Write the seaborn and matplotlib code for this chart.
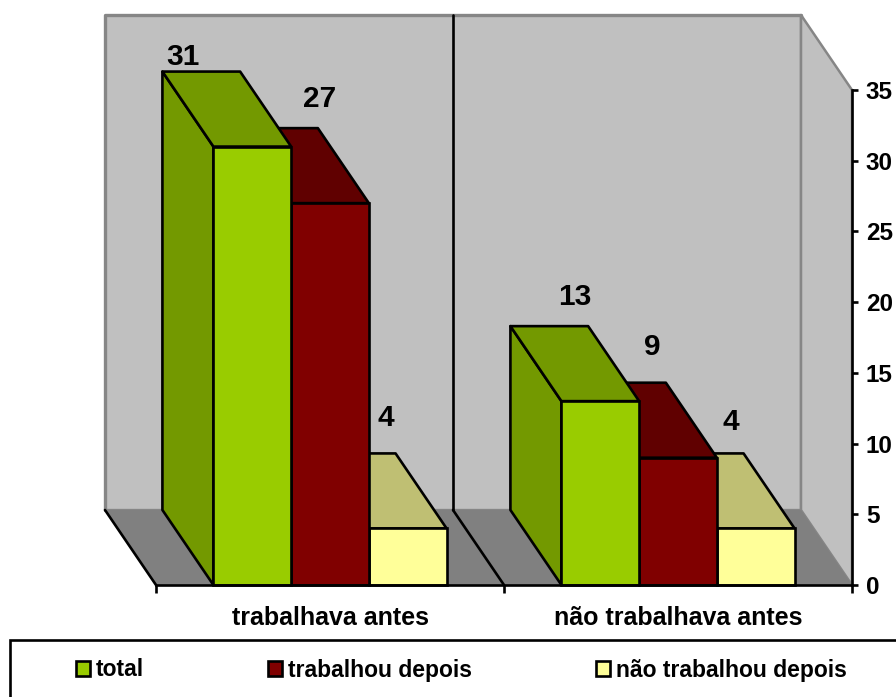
import matplotlib
matplotlib.use("Agg")
import matplotlib.pyplot as plt
from matplotlib.colors import to_rgb
from matplotlib.patches import Polygon, Rectangle
import pandas as pd
import seaborn as sns

categories = ["trabalhava antes", "não trabalhava antes"]
total = [31, 13]
trabalhou_depois = [27, 9]
nao_trabalhou_depois = [4, 4]
series_names = ["total", "trabalhou depois", "não trabalhou depois"]
y_ticks = [0, 5, 10, 15, 20, 25, 30, 35]

W, H = 896, 697
L, R, T, B = 156, 852, 90, 585
DEPTH_X_PX, DEPTH_Y_PX = -51, 75
colors = ["#99CC00", "#800000", "#FFFF99"]
LABEL_OFF = {(0, 0): (-30, 15), (1, 0): (28, 29), (2, 0): (17, 35),
             (0, 1): (13, 29), (1, 1): (13, 36), (2, 1): (14, 31)}
LW = 1.9

sns.set_theme(style="white")
plt.rcParams["font.family"] = ["Liberation Sans", "DejaVu Sans"]
plt.rcParams["font.weight"] = "bold"

df = pd.DataFrame({
    "cat": categories * 3,
    "serie": sum([[s] * 2 for s in series_names], []),
    "val": total + trabalhou_depois + nao_trabalhou_depois,
})

fig = plt.figure(figsize=(W / 100, H / 100), dpi=100, facecolor="white")
ax = fig.add_axes([L / W, 1 - B / H, (R - L) / W, (B - T) / H])
sns.barplot(data=df, x="cat", y="val", hue="serie", order=categories,
            hue_order=series_names, palette=colors, width=0.67, gap=0,
            saturation=1, edgecolor="black", linewidth=LW, ax=ax, legend=True)
handles, labels = ax.get_legend_handles_labels()
ax.get_legend().remove()

ax.set_xlim(-0.5, 1.5)
ax.set_ylim(0, 35)
ax.patch.set_visible(False)
dx = DEPTH_X_PX / (R - L) * 2.0
dy = DEPTH_Y_PX / (B - T) * 35


def poly(pts, fc, ec="none", lw=0, z=1.0):
    p = Polygon(pts, closed=True, facecolor=fc, edgecolor=ec, linewidth=lw,
                zorder=z, clip_on=False, joinstyle="round")
    ax.add_patch(p)


x0, x1, y0, y1 = -0.5, 1.5, 0, 35
wall, floor_c, wall_edge = "#C0C0C0", "#808080", "#868686"
poly([(x0 + dx, y0 + dy), (x1 + dx, y0 + dy), (x1 + dx, y1 + dy), (x0 + dx, y1 + dy)],
     wall, wall_edge, 2.4, 0.5)
poly([(x1 + dx, y0 + dy), (x1, y0), (x1, y1), (x1 + dx, y1 + dy)], wall, wall_edge, 1.8, 0.5)
poly([(x0 + dx, y0 + dy), (x1 + dx, y0 + dy), (x1, y0), (x0, y0)], floor_c, z=0.6)
ax.plot([x0 + dx, x0], [y0 + dy, y0], color="black", lw=LW, zorder=0.7, clip_on=False)
ax.plot([0.5 + dx, 0.5 + dx], [y0 + dy, y1 + dy], color="black", lw=LW, zorder=0.7, clip_on=False)
ax.plot([0.5 + dx, 0.5], [y0 + dy, y0], color="black", lw=LW, zorder=0.7, clip_on=False)

for s, cont in enumerate(ax.containers):
    dark = tuple(c * 0.75 for c in to_rgb(colors[s]))
    base_z = 3 - s
    for c, bar in enumerate(cont):
        a, w, h = bar.get_x(), bar.get_width(), bar.get_height()
        b = a + w
        bar.set_zorder(base_z + 0.3)
        bar.set_clip_on(False)
        poly([(a, 0), (a, h), (a + dx, h + dy), (a + dx, dy)], dark, "black", LW, base_z + 0.1)
        poly([(a, h), (b, h), (b + dx, h + dy), (a + dx, h + dy)], dark, "black", LW, base_z + 0.2)
        ox, oy = LABEL_OFF[(s, c)]
        ax.annotate(str(int(h)), xy=(a, h + dy), xytext=(ox * 0.72, oy * 0.72),
                    textcoords="offset points", ha="center", va="center",
                    fontsize=21.5, fontweight="bold", color="black", zorder=10,
                    annotation_clip=False)

for side in ("top", "left"):
    ax.spines[side].set_visible(False)
for side in ("bottom", "right"):
    ax.spines[side].set_linewidth(LW)
    ax.spines[side].set_color("black")
    ax.spines[side].set_zorder(8)

ax.set_xlabel("")
ax.set_ylabel("")
ax.set_xticks([-0.5, 0.5, 1.5])
ax.set_xticklabels([])
ax.set_xticks([0, 1], labels=categories, minor=True)
ax.tick_params(axis="x", which="major", direction="out", length=5.8, width=LW, color="black", bottom=True)
ax.tick_params(axis="x", which="minor", length=0, pad=15, labelsize=18, labelcolor="black", bottom=False)
ax.yaxis.tick_right()
ax.set_yticks(y_ticks)
ax.tick_params(axis="y", direction="out", length=4.5, width=LW, color="black", right=True,
               left=False, pad=5.5, labelsize=17.5, labelcolor="black")
for t in ax.get_xminorticklabels() + ax.get_yticklabels():
    t.set_fontweight("bold")

fig.add_artist(Rectangle((10 / W, -0.02), 1.0, 1 - 640 / H + 0.02, transform=fig.transFigure,
                         facecolor="white", edgecolor="black", linewidth=LW))
leg = fig.legend(handles, labels, loc="center left", bbox_to_anchor=(55 / W, 1 - 670 / H), ncol=3,
                 frameon=False, fontsize=16.5, handlelength=0.61, handleheight=0.61,
                 handletextpad=0.27, columnspacing=5.4, labelcolor="black")
for t in leg.get_texts():
    t.set_fontweight("bold")
for h in leg.legend_handles:
    h.set_edgecolor("black")
    h.set_linewidth(LW)

fig.savefig("out.png", dpi=100)
